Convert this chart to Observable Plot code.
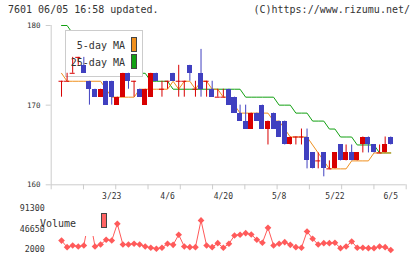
<!DOCTYPE html>
<html>
<head>
<meta charset="utf-8">
<script src="https://cdn.jsdelivr.net/npm/d3@7"></script>
<script src="https://cdn.jsdelivr.net/npm/@observablehq/plot@0.6"></script>
<style>
  body { margin: 0; background: #fff; }
  #chart { position: relative; width: 420px; height: 259px; overflow: hidden; font-family: "DejaVu Sans Mono", monospace; }
  #chart svg { position: absolute; left: 0; }
  .hdr { position: absolute; top: 4px; font-size: 10px; line-height: 12px; color: #333; white-space: nowrap; }
</style>
</head>
<body>
<div id="chart">
  <div class="hdr" style="left:8px">7601 06/05 16:58 updated.</div>
  <div class="hdr" style="right:10px">(C)https://www.rizumu.net/</div>
</div>
<script>
// Daily bars, oldest first (trading-day index 0..59)
const open  = [173,173,174,176,175,173,172,171,173,173,170,171,174,173,172,170,171,174,172,173,
               174,173,173,175,172,174,173,172,171,171,172,171,169,168,167,169,170,167,169,168,
               168,165,166,166,166,164,163,164,162,162,165,163,164,163,165,166,165,164,164,166];
const high  = [173,174,176,176,176,173,172,172,173,173,171,174,174,173,172,172,174,174,173,173,
               174,175,173,175,173,177,173,173,172,172,172,171,170,170,169,169,170,168,169,168,
               168,166,166,167,167,164,164,164,163,164,165,165,165,164,166,166,165,165,166,166];
const low   = [171,173,174,175,174,170,171,171,170,170,170,171,172,171,171,170,171,173,171,172,
               173,171,171,173,171,171,171,171,171,171,170,169,168,167,167,168,167,165,167,166,
               165,165,165,165,162,162,162,161,162,162,163,163,163,163,164,164,164,164,164,165];
const close = [173,173,174,176,174,172,171,172,170,171,171,174,173,173,171,172,174,173,172,173,
               173,173,173,174,172,172,173,171,171,171,170,169,168,167,169,168,167,168,167,166,
               165,166,166,166,163,162,163,162,162,164,163,164,163,164,166,165,164,164,165,165];
const volume = [22000,7700,11400,9200,11400,75000,9200,13500,23800,22300,58600,13500,13500,15100,13500,9200,6400,4200,6400,15100,
                12900,34700,9200,7700,7700,66000,11400,7700,16400,6400,15100,33200,34700,38200,35300,23800,17300,49900,11400,15100,
                18600,12900,7700,6400,41900,26000,13500,16400,16400,17300,5500,9200,20100,6400,6400,5500,5500,9200,7700,1500];
// Moving averages (yen)
const ma5  = [174,173,173,173,173,173,173,173,172,171,171,171,171,171,172,172,172,172,172,172,
              173,172,173,173,172,173,173,172,172,171,171,170,169,169,169,169,169,169,168,168,
              167,166,166,166,166,165,164,163,162,162,162,162,163,163,163,163,164,164,164,164];
const ma25 = [180,180,179,179,178,178,177,177,176,176,175,175,175,174,174,174,173,173,173,173,
              172,172,172,172,172,172,172,172,172,172,172,172,172,171,171,171,171,171,171,170,
              170,170,169,169,169,168,168,168,167,167,166,166,166,165,165,165,165,164,164,164];

// Axis labels
const dateTickIndex = [9, 19, 29, 39, 49, 59];
const dateTickLabel = ["3/23", "4/6", "4/20", "5/8", "5/22", "6/5"];
const priceTicks = [160, 170, 180];
const volumeTicks = [2000, 46650, 91300];

const RED = "#d80000", BLUE = "#4040c0", ORANGE = "#f0901e", GREEN = "#12a012", VOL = "#ff5a5a", GRID = "#cccccc", INK = "#333";

const bars = open.map((o, i) => ({i, o, h: high[i], l: low[i], c: close[i]}));
const bodies = bars.filter(d => d.o !== d.c);
const dojis = bars.filter(d => d.o === d.c);
const ma5Rows = ma5.map((v, i) => ({i, v}));
const ma25Rows = ma25.map((v, i) => ({i, v}));
const volRows = volume.map((v, i) => ({i, v}));

const xDomain = [-1.85, 61.77];
// eleven equal divisions along the time axis
const gridTicks = d3.range(12).map(k => xDomain[0] + k * (xDomain[1] - xDomain[0]) / 11);
const barColor = d => (d.c >= d.o ? RED : BLUE);
const half = 0.45;

function maLegend() {
  const g = d3.create("svg:g");
  g.append("rect").attr("x", 65.5).attr("y", 30.5).attr("width", 77).attr("height", 46)
    .attr("fill", "#fff").attr("stroke", GRID);
  return g.node();
}
function maLegendText() {
  const g = d3.create("svg:g").attr("font-family", "DejaVu Sans Mono, monospace").attr("font-size", 10);
  const items = [["5-day MA", ORANGE, 49, 37.5], ["25-day MA", GREEN, 66, 54.5]];
  for (const [label, color, base, top] of items) {
    g.append("text").attr("x", 125).attr("y", base).attr("text-anchor", "end").attr("fill", INK).text(label);
    g.append("rect").attr("x", 131.5).attr("y", top).attr("width", 5).attr("height", 14)
      .attr("fill", color).attr("stroke", "#444");
  }
  return g.node();
}

const price = Plot.plot({
  width: 420, height: 205,
  marginLeft: 50.7, marginRight: 14.3, marginTop: 25, marginBottom: 20.7,
  style: {background: "transparent", fontFamily: "DejaVu Sans Mono, monospace", fontSize: "8px"},
  x: {type: "linear", domain: xDomain, label: null},
  y: {domain: [160, 180], label: null},
  marks: [
    Plot.line(ma25Rows, {x: "i", y: "v", stroke: GREEN, strokeWidth: 1}),
    Plot.line(ma5Rows, {x: "i", y: "v", stroke: ORANGE, strokeWidth: 1}),
    maLegend,
    Plot.ruleX(bars, {x: "i", y1: "l", y2: "h", stroke: barColor, strokeWidth: 1}),
    Plot.rect(bodies, {x1: d => d.i - half, x2: d => d.i + half, y1: "o", y2: "c", fill: barColor, shapeRendering: "crispEdges"}),
    Plot.ruleY(dojis, {y: "c", x1: d => d.i - half, x2: d => d.i + half, stroke: RED, strokeWidth: 1}),
    maLegendText,
    Plot.ruleX([xDomain[0]], {stroke: GRID}),
    Plot.ruleY([160], {stroke: GRID}),
    Plot.axisY(priceTicks, {tickSize: 5, tickPadding: 5.7, stroke: GRID, fill: INK, fontSize: 7.5, label: null, tickFormat: d => String(d)}),
    Plot.axisX(gridTicks, {tickSize: 5, tickFormat: () => "", stroke: GRID, label: null}),
    Plot.text(dateTickIndex, {x: d => d, text: (d, j) => dateTickLabel[j], frameAnchor: "bottom", dy: 14, fontSize: 8, fill: INK})
  ]
});
price.style.top = "0px";

function volLegend() {
  const g = d3.create("svg:g").attr("font-family", "DejaVu Sans Mono, monospace").attr("font-size", 10);
  g.append("rect").attr("x", 55).attr("y", 7).attr("width", 58).attr("height", 29).attr("fill", "#fff");
  g.append("text").attr("x", 58).attr("y", 26.5).attr("fill", INK).text("Volume");
  g.append("rect").attr("x", 101.5).attr("y", 13.5).attr("width", 5).attr("height", 14)
    .attr("fill", "#ff6464").attr("stroke", "#444");
  return g.node();
}

const vol = Plot.plot({
  width: 420, height: 59,
  marginLeft: 50.7, marginRight: 14.3, marginTop: 8.3, marginBottom: 9.7,
  style: {background: "transparent", fontFamily: "DejaVu Sans Mono, monospace", fontSize: "8px"},
  x: {type: "linear", domain: xDomain, label: null, axis: null},
  y: {domain: [2000, 91300], label: null},
  marks: [
    Plot.line(volRows, {x: "i", y: "v", stroke: VOL, strokeWidth: 1}),
    Plot.dot(volRows, {x: "i", y: "v", symbol: "diamond2", r: 3, fill: VOL}),
    volLegend,
    Plot.axisY(volumeTicks, {tickSize: 0, tickPadding: 6.4, fill: INK, fontSize: 8.3, label: null, tickFormat: d => String(d)})
  ]
});
vol.style.top = "200px";

const chart = document.getElementById("chart");
chart.appendChild(price);
chart.appendChild(vol);
</script>
</body>
</html>
